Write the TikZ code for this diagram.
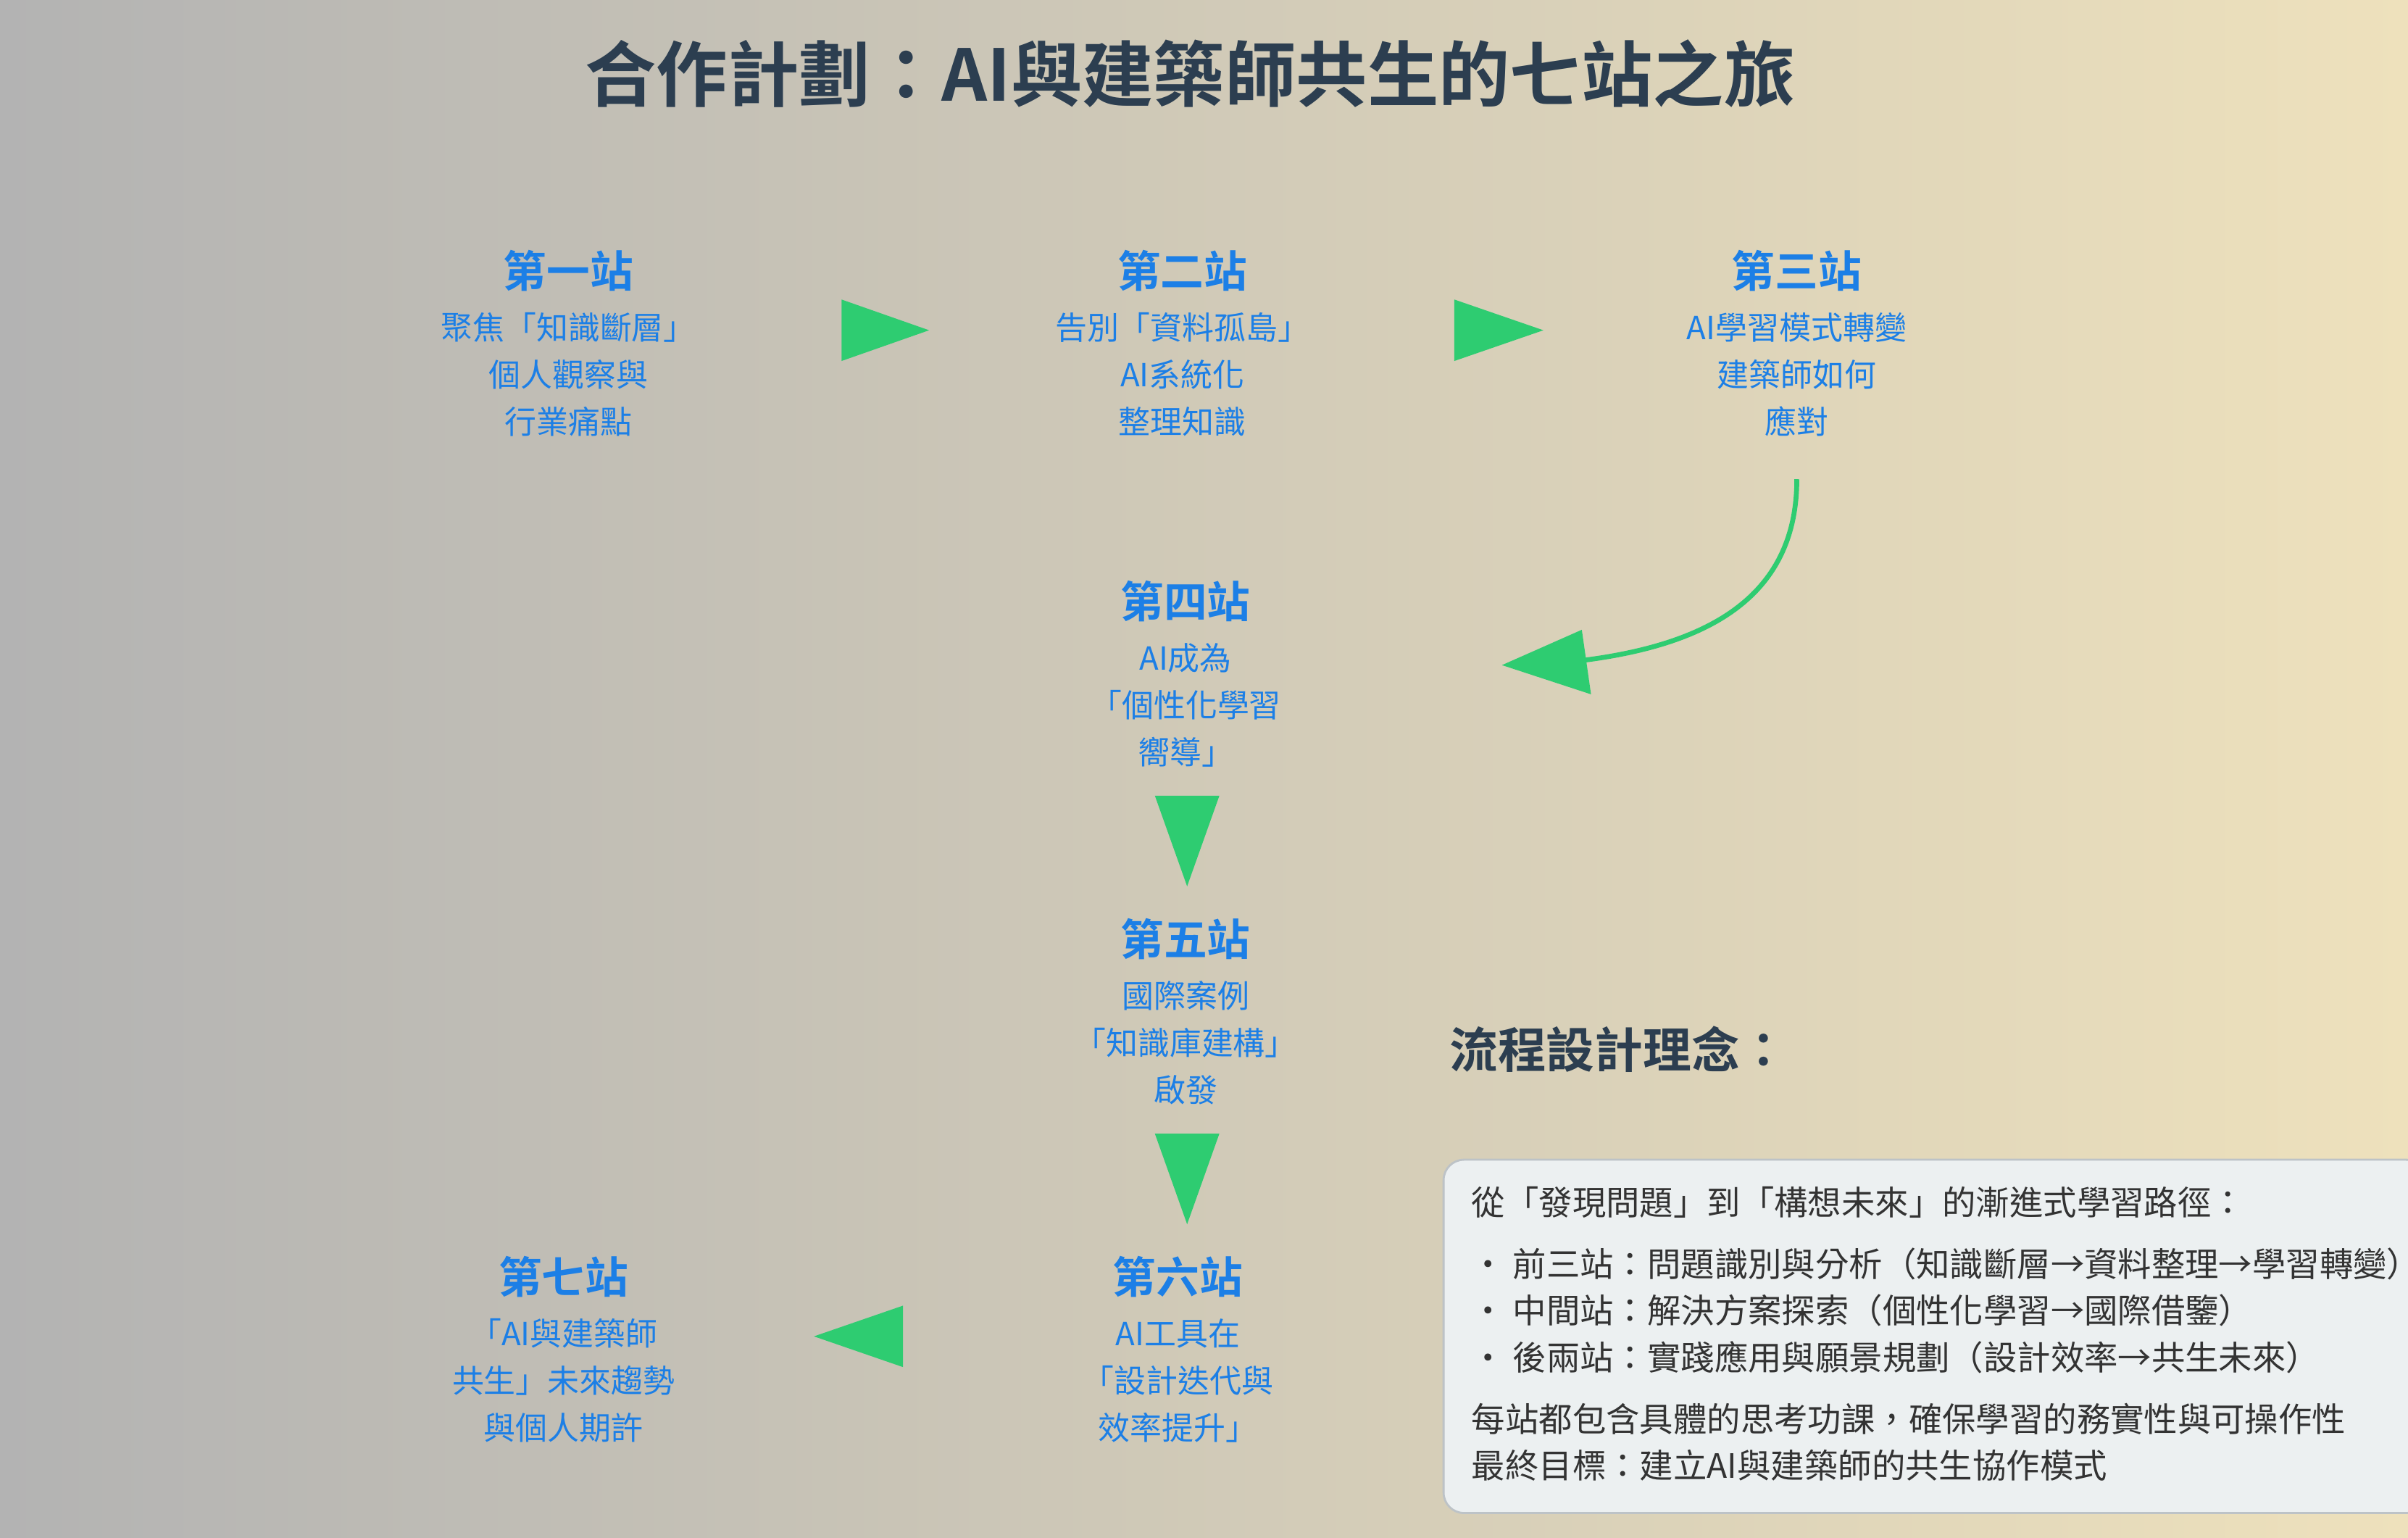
\documentclass[tikz,border=0pt]{standalone}
\usepackage{fontspec}
\setmainfont{Noto Sans CJK TC}[BoldFont={Noto Sans CJK TC Bold}]
\usetikzlibrary{calc}
\definecolor{stblue}{HTML}{1C7FE6}
\definecolor{stgreen}{HTML}{2ECC71}
\definecolor{sttitle}{HTML}{2C3E50}
\definecolor{stbox}{HTML}{ECF0F1}
\definecolor{stedge}{HTML}{BDC3C7}
\definecolor{sttext}{HTML}{333333}
\definecolor{bgleft}{HTML}{B3B3B3}
\definecolor{bgright}{HTML}{EEE1BC}
\newcommand{\sthead}[1]{{\fontsize{17}{20}\selectfont\bfseries #1}\\[2pt]}

\tikzset{
  station/.style={align=center, text=stblue, anchor=north, font=\fontsize{12.5}{18.5}\selectfont},
  tri/.style={fill=stgreen, draw=none}
}

\begin{document}
\begin{tikzpicture}[x=0.02119cm, y=-0.02119cm]
\shade[left color=bgleft, right color=bgright] (0,0) rectangle (1568,1001);
\useasboundingbox (0,0) rectangle (1568,1001);

\node[text=sttitle, font=\fontsize{28}{32}\selectfont\bfseries] (title) at (775,48) {合作計劃：AI與建築師共生的七站之旅};

% stations
\node[station] (s1) at (370,157) {\sthead{第一站}聚焦「知識斷層」\\個人觀察與\\行業痛點};
\node[station] (s2) at (770,157) {\sthead{第二站}告別「資料孤島」\\AI系統化\\整理知識};
\node[station] (s3) at (1170,157) {\sthead{第三站}AI學習模式轉變\\建築師如何\\應對};
\node[station] (s4) at (772,372) {\sthead{第四站}AI成為\\「個性化學習\\嚮導」};
\node[station] (s5) at (772,592) {\sthead{第五站}國際案例\\「知識庫建構」\\啟發};
\node[station] (s6) at (767,812) {\sthead{第六站}AI工具在\\「設計迭代與\\效率提升」};
\node[station] (s7) at (367,812) {\sthead{第七站}「AI與建築師\\共生」未來趨勢\\與個人期許};

% arrows
\fill[tri] (548,195) -- (605,215) -- (548,235) -- cycle;
\fill[tri] (947,195) -- (1005,215) -- (947,235) -- cycle;
\draw[stgreen, line width=1.9pt] (1170,312) .. controls (1170,390) and (1110,420) .. (1030,430);
\fill[tri] (978,433) -- (1030,410) -- (1036,452) -- cycle;
\fill[tri] (752,518) -- (794,518) -- (773,577) -- cycle;
\fill[tri] (752,738) -- (794,738) -- (773,797) -- cycle;
\fill[tri] (588,850) -- (588,890) -- (530,870) -- cycle;

% notes
\node[text=sttitle, anchor=west, font=\fontsize{19}{22}\selectfont\bfseries] (concept) at (938,683) {流程設計理念：};
\draw[fill=stbox, draw=stedge, line width=0.8pt, rounded corners=8pt] (940,755) rectangle (1580,985);
\node[text=sttext, anchor=north west, align=left, inner sep=0pt, font=\fontsize{13.2}{18.3}\selectfont] (notes) at (958,772)
{從「發現問題」到「構想未來」的漸進式學習路徑：\\[6pt]
• 前三站：問題識別與分析（知識斷層→資料整理→學習轉變）\\
• 中間站：解決方案探索（個性化學習→國際借鑒）\\
• 後兩站：實踐應用與願景規劃（設計效率→共生未來）\\[6pt]
每站都包含具體的思考功課，確保學習的務實性與可操作性\\
最終目標：建立AI與建築師的共生協作模式};
\end{tikzpicture}
\end{document}
